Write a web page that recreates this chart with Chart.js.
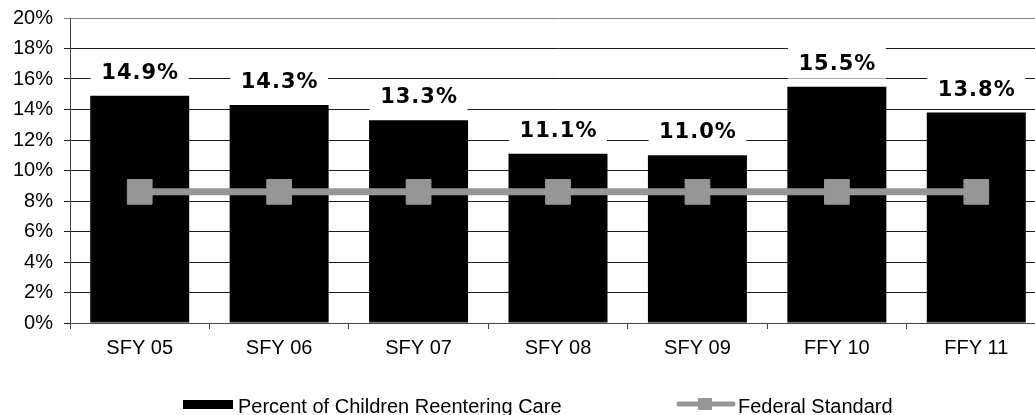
<!DOCTYPE html>
<html>
<head>
<meta charset="utf-8">
<script src="https://cdn.jsdelivr.net/npm/chart.js@4"></script>
<style>
    html, body { margin: 0; padding: 0; background: #fff; overflow: hidden; }
    #wrap { width: 1035px; height: 415px; overflow: hidden; position: relative; }
    #reentryChart { display: block; }
</style>
</head>
<body>
<div id="wrap"><canvas id="reentryChart" width="1050" height="415"></canvas></div>
<script>
const categories = ['SFY 05', 'SFY 06', 'SFY 07', 'SFY 08', 'SFY 09', 'FFY 10', 'FFY 11'];
const reentryRate = [14.9, 14.3, 13.3, 11.1, 11.0, 15.5, 13.8];
const federalStandard = [8.6, 8.6, 8.6, 8.6, 8.6, 8.6, 8.6];
const yTicks = [0, 2, 4, 6, 8, 10, 12, 14, 16, 18, 20];

const axisFont = { family: '"Liberation Sans", Arial, sans-serif', size: 20 };
const lineGray = '#969696';

// value labels with a white box behind them (covers the gridlines)
const barLabels = {
    id: 'barLabels',
    afterDatasetsDraw(chart) {
        const meta = chart.getDatasetMeta(0);
        const ctx = chart.ctx;
        ctx.save();
        ctx.font = 'bold 21px "DejaVu Sans", Verdana, sans-serif';
        ctx.letterSpacing = '1px';
        ctx.textAlign = 'center';
        ctx.textBaseline = 'alphabetic';
        meta.data.forEach((bar, i) => {
            const txt = reentryRate[i].toFixed(1) + '%';
            const w = ctx.measureText(txt).width + 20;
            const y = bar.y - 17;
            ctx.fillStyle = '#fff';
            ctx.fillRect(bar.x - w / 2, y - 23, w, 32);
            ctx.fillStyle = '#000';
            ctx.fillText(txt, bar.x + 0.5, y);
        });
        ctx.restore();
    }
};

// legend drawn by hand: Excel style box + line-with-marker
const bottomLegend = {
    id: 'bottomLegend',
    afterDraw(chart) {
        const ctx = chart.ctx;
        ctx.save();
        ctx.font = '20px "Liberation Sans", Arial, sans-serif';
        ctx.textBaseline = 'alphabetic';
        ctx.fillStyle = '#000';

        // item 1
        ctx.fillRect(183, 400, 50, 9);
        ctx.fillText('Percent of Children Reentering Care', 238, 413);

        // item 2
        ctx.strokeStyle = lineGray;
        ctx.lineWidth = 5;
        ctx.lineCap = 'round';
        ctx.beginPath();
        ctx.moveTo(679, 404);
        ctx.lineTo(733, 404);
        ctx.stroke();
        ctx.fillStyle = lineGray;
        ctx.fillRect(698, 398, 14, 12);
        ctx.fillStyle = '#000';
        ctx.fillText('Federal Standard', 738, 413);
        ctx.restore();
    }
};

new Chart(document.getElementById('reentryChart'), {
    data: {
        labels: categories,
        datasets: [
            {
                type: 'bar',
                label: 'Percent of Children Reentering Care',
                data: reentryRate,
                backgroundColor: '#000',
                borderWidth: 0,
                barPercentage: 0.71,
                categoryPercentage: 1,
                order: 2
            },
            {
                type: 'line',
                label: 'Federal Standard',
                data: federalStandard,
                borderColor: lineGray,
                backgroundColor: lineGray,
                borderWidth: 7,
                pointStyle: 'rect',
                pointRadius: 17.5,
                pointBorderWidth: 1,
                pointBackgroundColor: lineGray,
                pointBorderColor: lineGray,
                tension: 0,
                order: 1
            }
        ]
    },
    options: {
        responsive: false,
        maintainAspectRatio: false,
        devicePixelRatio: 1,
        animation: false,
        events: [],
        layout: {
            autoPadding: false,
            padding: { top: 18, right: 4, left: 0, bottom: 0 }
        },
        plugins: {
            legend: { display: false },
            tooltip: { enabled: false }
        },
        scales: {
            x: {
                offset: true,
                afterFit: (s) => {
                    s.height = 92;
                    s.paddingLeft = 0;
                    s.paddingRight = 0;
                },
                grid: {
                    offset: true,
                    drawOnChartArea: false,
                    drawTicks: true,
                    tickLength: 6,
                    color: '#444'
                },
                border: { color: '#444', width: 1 },
                ticks: { color: '#000', font: axisFont, padding: 7, maxRotation: 0 }
            },
            y: {
                min: 0,
                max: 20,
                afterFit: (s) => {
                    s.width = 70;
                    s.paddingTop = 0;
                    s.paddingBottom = 0;
                },
                afterBuildTicks: (s) => { s.ticks = yTicks.map(v => ({ value: v })); },
                grid: {
                    color: (c) => (c.tick && c.tick.value === 20 ? '#808080' : '#1a1a1a'),
                    lineWidth: 1,
                    tickLength: 6
                },
                border: { color: '#444', width: 1 },
                ticks: {
                    color: '#000',
                    font: axisFont,
                    padding: 11,
                    callback: (v) => v + '%'
                }
            }
        }
    },
    plugins: [barLabels, bottomLegend]
});
</script>
</body>
</html>
